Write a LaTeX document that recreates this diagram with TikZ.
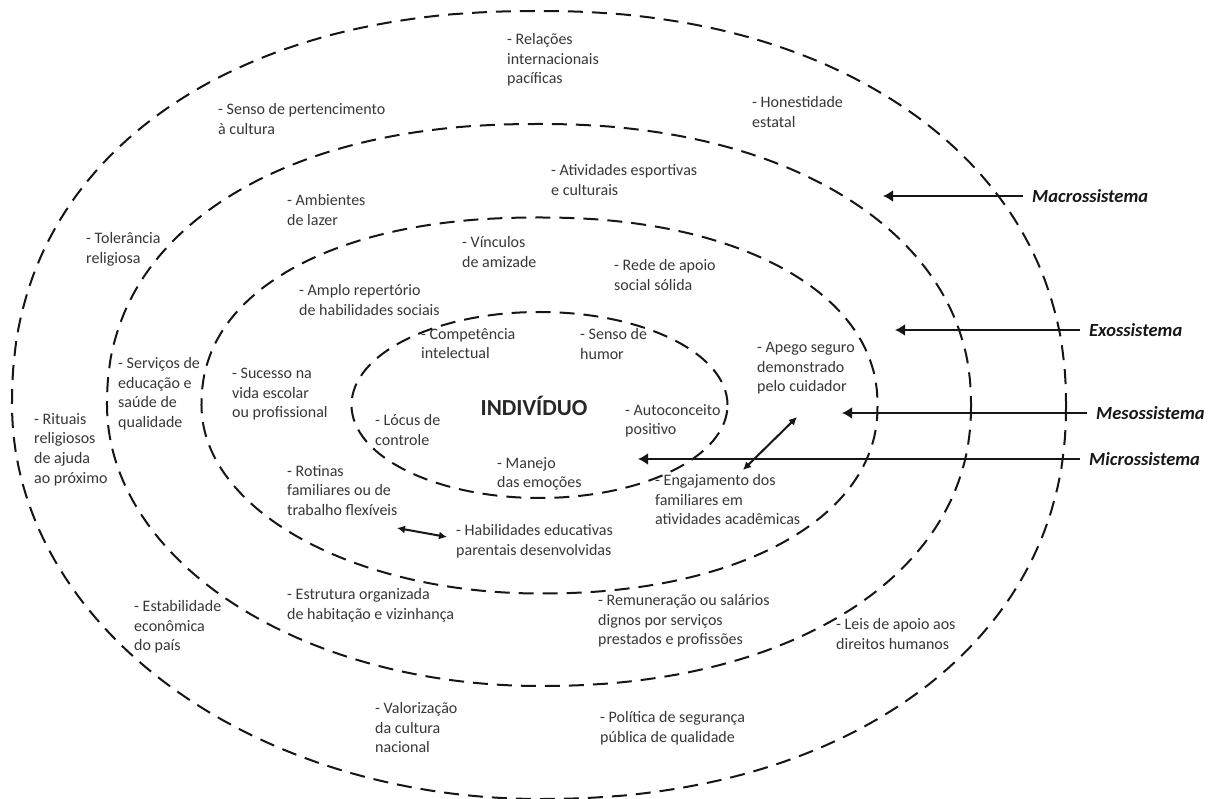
\documentclass[tikz,border=0pt]{standalone}
\usepackage{fontspec}
\setmainfont{Carlito}
\usetikzlibrary{arrows.meta}
\definecolor{txt}{RGB}{55,55,55}
\definecolor{ink}{RGB}{22,22,22}
% a slightly squarish ring: cx, cy, rx, ry
\newcommand{\myring}[4]{%
  \draw[ring]
    plot[domain=0.1:89.9,samples=70] ({#1+#3*pow(cos(\x),0.9302)},{#2+#4*pow(sin(\x),0.9302)})
    -- plot[domain=0.1:89.9,samples=70] ({#1-#3*sin(\x)},{#2+#4*cos(\x)})
    -- plot[domain=0.1:89.9,samples=70] ({#1-#3*pow(cos(\x),0.9091)},{#2-#4*pow(sin(\x),0.9091)})
    -- plot[domain=0.1:89.9,samples=70] ({#1+#3*pow(sin(\x),0.9302)},{#2-#4*pow(cos(\x),0.9302)})
    -- cycle;}
\begin{document}
\begin{tikzpicture}[x=1pt,y=-1pt,
  ring/.style={draw=ink, line width=2pt, dash pattern=on 15pt off 9pt},
  lbl/.style={anchor=north west, inner sep=0pt, align=left, yshift=9pt,
    font=\fontsize{16}{19.7}\selectfont, text=txt, execute at begin node=\strut},
  syslbl/.style={anchor=west, inner xsep=9pt, inner ysep=0pt,
    font=\fontsize{18.5}{20}\selectfont\bfseries\itshape, text=ink},
  sysarrow/.style={draw=ink, line width=2.4pt, -{Latex[length=10pt,width=12pt]}},
  dblarrow/.style={draw=ink, line width=2pt, {Latex[length=8pt,width=8pt]}-{Latex[length=8pt,width=8pt]}}
]
\useasboundingbox (0,0) rectangle (1219,799);
\fill[white] (0,0) rectangle (1219,799);

% rings
\myring{539}{405}{527}{394}
\myring{539}{405}{432}{281}
\myring{539.5}{405.5}{338}{188}
\draw[ring] (539.5,405) ellipse [x radius=188pt, y radius=93pt];

% centre
\node[anchor=base, inner sep=0pt, font=\fontsize{23}{26}\selectfont\bfseries, text={rgb,255:red,40;green,40;blue,40}] (ind) at (534,416) {INDIVÍDUO};

% labels
\node[lbl] (relacoes) at (507,42) {- Relações\\internacionais\\pacíficas};
\node[lbl] (honest) at (752,105) {- Honestidade\\estatal};
\node[lbl] (pertenc) at (218,112) {- Senso de pertencimento\\à cultura};
\node[lbl] (ativ) at (551,173) {- Atividades esportivas\\e culturais};
\node[lbl] (amb) at (287,203) {- Ambientes\\de lazer};
\node[lbl] (toler) at (86,241) {- Tolerância\\religiosa};
\node[lbl] (vinc) at (462,245) {- Vínculos\\de amizade};
\node[lbl] (rede) at (614,268) {- Rede de apoio\\social sólida};
\node[lbl] (amplo) at (299,293) {- Amplo repertório\\de habilidades sociais};
\node[lbl] (compet) at (421,337) {- Competência\\intelectual};
\node[lbl] (humor) at (580,337) {- Senso de\\humor};
\node[lbl] (apego) at (757,351) {- Apego seguro\\demonstrado\\pelo cuidador};
\node[lbl] (serv) at (118,366) {- Serviços de\\educação e\\saúde de\\qualidade};
\node[lbl] (sucesso) at (232,377) {- Sucesso na\\vida escolar\\ou profissional};
\node[lbl] (auto) at (625,413) {- Autoconceito\\positivo};
\node[lbl] (rituais) at (34,422) {- Rituais\\religiosos\\de ajuda\\ao próximo};
\node[lbl] (locus) at (375,423) {- Lócus de\\controle};
\node[lbl] (manejo) at (497,466) {- Manejo\\das emoções};
\node[lbl] (rotinas) at (287,474) {- Rotinas\\familiares ou de\\trabalho flexíveis};
\node[lbl] (engaj) at (655,483) {- Engajamento dos\\familiares em\\atividades acadêmicas};
\node[lbl] (habil) at (456,533) {- Habilidades educativas\\parentais desenvolvidas};
\node[lbl] (estrut) at (287,597) {- Estrutura organizada\\de habitação e vizinhança};
\node[lbl] (estab) at (134,609) {- Estabilidade\\econômica\\do país};
\node[lbl] (remun) at (598,603) {- Remuneração ou salários\\dignos por serviços\\prestados e profissões};
\node[lbl] (leis) at (836,627) {- Leis de apoio aos\\direitos humanos};
\node[lbl] (valor) at (375,711) {- Valorização\\da cultura\\nacional};
\node[lbl] (polit) at (600,720) {- Política de segurança\\pública de qualidade};

% system labels and arrows
\node[syslbl] (macro) at (1023,196) {Macrossistema};
\node[syslbl] (exo) at (1080,330) {Exossistema};
\node[syslbl] (meso) at (1087,413) {Mesossistema};
\node[syslbl] (micro) at (1080,459) {Microssistema};
\coordinate (macrotip) at (883,196);
\coordinate (exotip) at (895,330);
\coordinate (mesotip) at (842,413);
\coordinate (microtip) at (638,459);
\draw[sysarrow] (macro.west) -- (macrotip);
\draw[sysarrow] (exo.west) -- (exotip);
\draw[sysarrow] (meso.west) -- (mesotip);
\draw[sysarrow] (micro.west) -- (microtip);

% double arrows
\coordinate (dA) at (743,470);
\coordinate (dB) at (797,417);
\draw[dblarrow] (dA) -- (dB);
\coordinate (hA) at (397,528);
\coordinate (hB) at (447,537);
\draw[dblarrow] (hA) -- (hB);
\end{tikzpicture}
\end{document}
